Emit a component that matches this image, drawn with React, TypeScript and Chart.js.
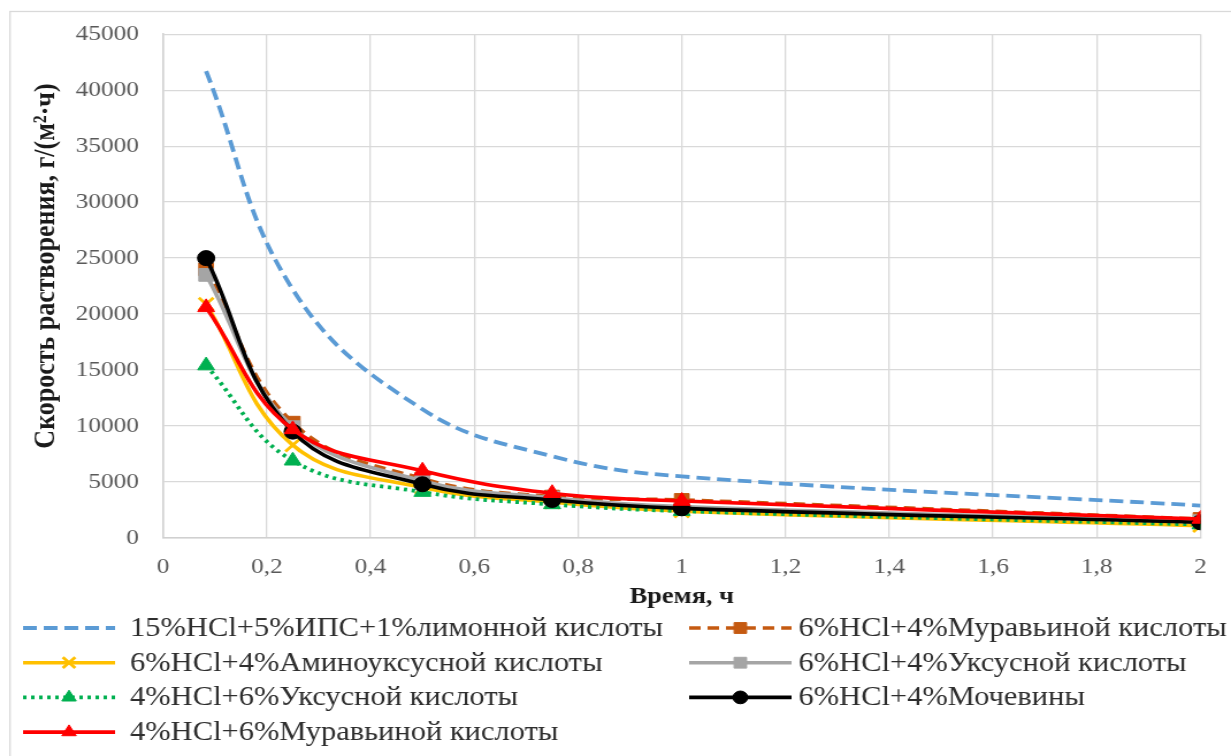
import React, { useEffect, useRef } from 'react';
import { Chart, registerables } from 'chart.js';
import { drawPoint } from 'chart.js/helpers';

Chart.register(...registerables);

// ---- data ----
const timeHours = [0.083, 0.25, 0.5, 0.75, 1, 2];

const seriesNames = [
  '15%HCl+5%ИПС+1%лимонной кислоты',
  '6%HCl+4%Муравьиной кислоты',
  '6%HCl+4%Аминоуксусной кислоты',
  '6%HCl+4%Уксусной кислоты',
  '4%HCl+6%Уксусной кислоты',
  '6%HCl+4%Мочевины',
  '4%HCl+6%Муравьиной кислоты',
];

const citric15HCl = [41700, 22200, 11500, 7300, 5500, 2900];
const formic6HCl = [24000, 10300, 5300, 3700, 3400, 1700];
const aminoacetic6HCl = [20900, 8300, 4500, 3200, 2400, 1100];
const acetic6HCl = [23500, 9900, 5100, 3600, 2800, 1500];
const acetic4HCl = [15400, 6900, 4100, 3000, 2400, 1200];
const urea6HCl = [25000, 9500, 4800, 3400, 2650, 1400];
const formic4HCl = [20600, 9700, 6000, 4000, 3300, 1700];

const xTickMin = 0;
const xTickMax = 2;
const xTickStep = 0.2;
const yTickMin = 0;
const yTickMax = 45000;
const yTickStep = 5000;

const xTitle = 'Время, ч';
const yTitle = 'Скорость растворения, г/(м²·ч)';

// ---- styling ----
const FONT = '"Liberation Serif", "Times New Roman", serif';
const STRETCH = 1.15;
const CANVAS_W = Math.round(1231 / STRETCH);
const CANVAS_H = 756;

type Style = {
  color: string;
  dash: number[];
  point: string | false;
  radius: number;
  width: number;
};

const styles: Style[] = [
  { color: '#5B9BD5', dash: [12, 6], point: false, radius: 0, width: 3.8 },
  { color: '#C55A11', dash: [10, 6], point: 'rect', radius: 9, width: 3.6 },
  { color: '#FFC000', dash: [], point: 'crossRot', radius: 9, width: 3.6 },
  { color: '#A5A5A5', dash: [], point: 'rect', radius: 9, width: 3.6 },
  { color: '#00B050', dash: [3, 4], point: 'triangle', radius: 8.5, width: 3.8 },
  { color: '#000000', dash: [], point: 'circle', radius: 7.5, width: 3.6 },
  { color: '#FF0000', dash: [], point: 'triangle', radius: 8.5, width: 3.6 },
];

const seriesValues = [
  citric15HCl,
  formic6HCl,
  aminoacetic6HCl,
  acetic6HCl,
  acetic4HCl,
  urea6HCl,
  formic4HCl,
];

const fmt = (v: number) => {
  const r = Math.round(v * 10) / 10;
  return String(r).replace('.', ',');
};

const decorPlugin = {
  id: 'decor',
  beforeDraw(chart: any) {
    const ctx = chart.ctx;
    ctx.save();
    ctx.fillStyle = '#ffffff';
    ctx.fillRect(0, 0, chart.width, chart.height);
    ctx.strokeStyle = '#d9d9d9';
    ctx.lineWidth = 1.3;
    ctx.strokeRect(10 / STRETCH, 11.5, chart.width + 20, chart.height + 20);
    ctx.restore();
  },
  afterDraw(chart: any) {
    const ctx = chart.ctx;
    // y axis title
    ctx.save();
    ctx.translate(40, 266);
    ctx.rotate(-Math.PI / 2);
    ctx.fillStyle = '#1a1a1a';
    ctx.font = `bold 26px ${FONT}`;
    ctx.textAlign = 'center';
    ctx.textBaseline = 'middle';
    ctx.fillText(yTitle, 0, 0);
    ctx.restore();

    // legend
    const cols = [
      { x0: 20, x1: 100, text: 113 },
      { x0: 599, x1: 688, text: 694 },
    ];
    const rowY0 = 628;
    const rowGap = 34.7;
    chart.data.datasets.forEach((ds: any, i: number) => {
      const st = styles[i];
      const c = cols[i % 2];
      const y = rowY0 + Math.floor(i / 2) * rowGap;
      ctx.save();
      ctx.strokeStyle = st.color;
      ctx.lineWidth = st.width;
      ctx.setLineDash(st.dash);
      ctx.beginPath();
      ctx.moveTo(c.x0, y);
      ctx.lineTo(c.x1, y);
      ctx.stroke();
      ctx.setLineDash([]);
      if (st.point) {
        ctx.fillStyle = st.color;
        ctx.strokeStyle = st.color;
        ctx.lineWidth = st.point === 'crossRot' ? 2.8 : 1;
        drawPoint(ctx, { pointStyle: st.point, radius: st.radius * 0.85, rotation: 0, borderWidth: ctx.lineWidth } as any, (c.x0 + c.x1) / 2, y);
      }
      ctx.fillStyle = '#2e2e2e';
      ctx.font = `26.5px ${FONT}`;
      ctx.textAlign = 'left';
      ctx.textBaseline = 'middle';
      ctx.fillText(ds.label, c.text, y + 1);
      ctx.restore();
    });
  },
};

export default function App() {
  const ref = useRef<HTMLCanvasElement | null>(null);

  useEffect(() => {
    if (!ref.current) return;
    const datasets = seriesValues.map((vals, i) => {
      const st = styles[i];
      return {
        label: seriesNames[i],
        data: timeHours.map((t, k) => ({ x: t, y: vals[k] })),
        borderColor: st.color,
        backgroundColor: st.color,
        borderWidth: st.width,
        borderDash: st.dash,
        tension: 0.4,
        fill: false,
        pointStyle: st.point || 'circle',
        pointRadius: st.point ? st.radius : 0,
        pointBorderWidth: st.point === 'crossRot' ? 2.8 : 1,
        pointBackgroundColor: st.color,
        pointBorderColor: st.color,
        order: seriesValues.length - 1 - i,
      };
    });

    const tickFont = { family: FONT, size: 22 };
    const chart = new Chart(ref.current, {
      type: 'line',
      data: { datasets },
      options: {
        responsive: false,
        animation: false,
        devicePixelRatio: 1,
        layout: { padding: { left: 0, top: 30, right: CANVAS_W - 1200 / STRETCH, bottom: 144 } },
        plugins: {
          legend: { display: false },
          tooltip: { enabled: false },
        },
        scales: {
          x: {
            type: 'linear',
            min: xTickMin,
            max: xTickMax,
            ticks: {
              stepSize: xTickStep,
              padding: 16,
              font: tickFont,
              color: '#595959',
              maxRotation: 0,
              autoSkip: false,
              callback: (v: any) => fmt(Number(v)),
            },
            grid: { color: '#d9d9d9', lineWidth: 1.3, drawTicks: false },
            border: { color: '#d0d0d0', width: 1.5 },
            title: {
              display: true,
              text: xTitle,
              color: '#1a1a1a',
              font: { family: FONT, size: 23, weight: 'bold' },
              padding: { top: 0, bottom: 1 },
            },
            afterFit: (s: any) => {
              s.height = 74;
            },
          },
          y: {
            min: yTickMin,
            max: yTickMax,
            ticks: {
              stepSize: yTickStep,
              padding: 21,
              font: tickFont,
              color: '#595959',
              callback: (v: any) => String(v),
            },
            grid: { color: '#d9d9d9', lineWidth: 1.3, drawTicks: false },
            border: { color: '#d0d0d0', width: 1.5 },
            afterFit: (s: any) => {
              s.width = 163 / STRETCH;
            },
          },
        },
      } as any,
      plugins: [decorPlugin],
    });
    return () => chart.destroy();
  }, []);

  return (
    <div style={{ position: 'fixed', left: 0, top: 0, width: 1231, height: 756, background: '#fff' }}>
      <canvas
        ref={ref}
        width={CANVAS_W}
        height={CANVAS_H}
        style={{ width: '1231px', height: '756px', display: 'block' }}
      />
    </div>
  );
}
